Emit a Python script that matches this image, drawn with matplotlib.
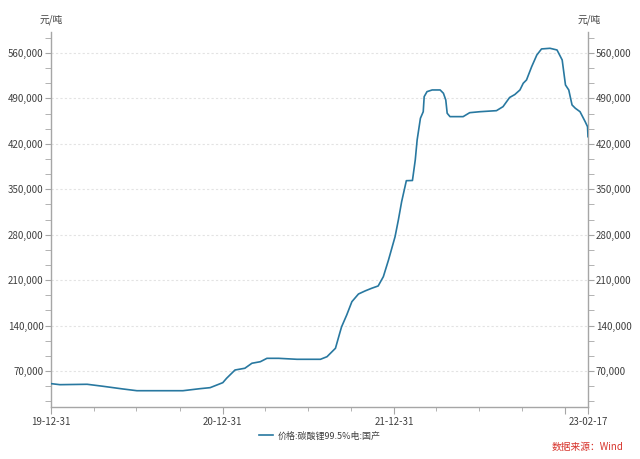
import matplotlib
matplotlib.use("Agg")
import matplotlib.pyplot as plt
import matplotlib.dates as mdates
from matplotlib.ticker import MultipleLocator, FuncFormatter
import pandas as pd

plt.rcParams["font.family"] = ["Noto Sans CJK SC", "DejaVu Sans"]

# price of battery-grade lithium carbonate (yuan / tonne)
dates = [
    "2019-12-31", "2020-01-19", "2020-03-17", "2020-04-20", "2020-06-01",
    "2020-07-01", "2020-10-07", "2020-11-12", "2020-12-04", "2020-12-31",
    "2021-01-08", "2021-01-26", "2021-02-16", "2021-03-03", "2021-03-21",
    "2021-04-04", "2021-04-29", "2021-06-07", "2021-07-27", "2021-08-10",
    "2021-08-28", "2021-09-06", "2021-09-10", "2021-09-21", "2021-10-02",
    "2021-10-16", "2021-10-30", "2021-11-13", "2021-11-27", "2021-12-08",
    "2021-12-19", "2021-12-26", "2022-01-02", "2022-01-09", "2022-01-16",
    "2022-01-26", "2022-02-08", "2022-02-14", "2022-02-18", "2022-02-25",
    "2022-03-03", "2022-03-05", "2022-03-11", "2022-03-22", "2022-04-08",
    "2022-04-15", "2022-04-20", "2022-04-23", "2022-04-29", "2022-05-27",
    "2022-06-10", "2022-07-02", "2022-08-06", "2022-08-20", "2022-09-03",
    "2022-09-14", "2022-09-25", "2022-10-02", "2022-10-09", "2022-10-20",
    "2022-10-31", "2022-11-10", "2022-11-28", "2022-12-13", "2022-12-24",
    "2022-12-31", "2023-01-07", "2023-01-14", "2023-01-21", "2023-01-31",
    "2023-02-11", "2023-02-16", "2023-02-17",
]
prices = [
    50500, 48900, 49500, 46400, 42300,
    39600, 39600, 42700, 44300, 52000,
    58700, 71500, 74200, 81900, 84300,
    89500, 89500, 88000, 88000, 92000,
    105000, 128000, 138000, 156300, 176800,
    188600, 193300, 197400, 201000, 215300,
    241000, 259000, 277000, 302700, 330900,
    363200, 363500, 395100, 425900, 459400,
    469500, 492700, 500400, 503000, 503000,
    497900, 487600, 467100, 461900, 461900,
    468000, 469500, 471100, 477300, 491400,
    495900, 503000, 513300, 518400, 538900,
    556900, 566200, 567200, 564600, 549200,
    510700, 503000, 479900, 474800, 469500,
    454100, 446400, 431000,
]
series_label = "价格:碳酸锂99.5%电:国产"
unit_label = "元/吨"
source_label = "数据来源：Wind"
major_dates = ["2019-12-31", "2020-12-31", "2021-12-31", "2022-12-31", "2023-02-17"]
major_labels = ["19-12-31", "20-12-31", "21-12-31", "", "23-02-17"]

LINE = "#2878a0"
AXIS = "#a6a6a6"
TEXT = "#404040"
GRID = "#e3e3e3"

x = pd.to_datetime(dates)

fig = plt.figure(figsize=(6.4, 4.59), dpi=100)
fig.patch.set_facecolor("white")
ax = fig.add_axes([51 / 640, 52 / 459, 537 / 640, 375 / 459])

ax.plot(x, prices, color=LINE, linewidth=1.2, label=series_label, zorder=3)

ax.set_xlim(pd.Timestamp(major_dates[0]), pd.Timestamp(major_dates[-1]))
ax.set_ylim(14500, 592300)

# y ticks: labels every 70,000, tick marks every third of that
ax.yaxis.set_major_locator(MultipleLocator(70000))
ax.yaxis.set_minor_locator(MultipleLocator(70000 / 3))
fmt = FuncFormatter(lambda v, p: f"{int(round(v)):,}")
ax.yaxis.set_major_formatter(fmt)
ax.grid(axis="y", which="major", color=GRID, linestyle=(0, (2, 2)), linewidth=0.8, zorder=0)

ax.set_xticks(pd.to_datetime(major_dates))
ax.set_xticklabels(major_labels)
ax.xaxis.set_minor_locator(mdates.MonthLocator(bymonth=[3, 6, 9, 12], bymonthday=-1))

for s in ["left", "right", "bottom"]:
    ax.spines[s].set_color(AXIS)
    ax.spines[s].set_linewidth(1.0)
ax.spines["top"].set_visible(False)

ax.tick_params(axis="y", which="both", direction="out", length=4, color=AXIS,
               labelsize=7, labelcolor=TEXT, pad=1.5, right=True, labelright=True)
ax.tick_params(axis="x", which="major", direction="out", length=5, color=AXIS,
               labelsize=7, labelcolor=TEXT, pad=2)
ax.tick_params(axis="x", which="minor", direction="out", length=3, color=AXIS)

fig.text(51 / 640, 1 - 20 / 459, unit_label, ha="center", va="center",
         fontsize=7, color=TEXT)
fig.text(589 / 640, 1 - 20 / 459, unit_label, ha="center", va="center",
         fontsize=7, color=TEXT)

fig.legend(loc="center", bbox_to_anchor=(320 / 640, 1 - 436 / 459), frameon=False,
           fontsize=6.5, handlelength=1.6, handletextpad=0.5, labelcolor=TEXT)

fig.text(623 / 640, 1 - 447 / 459, source_label, ha="right", va="center",
         fontsize=7, color="#d7332b")

fig.savefig("out.png", dpi=100)
